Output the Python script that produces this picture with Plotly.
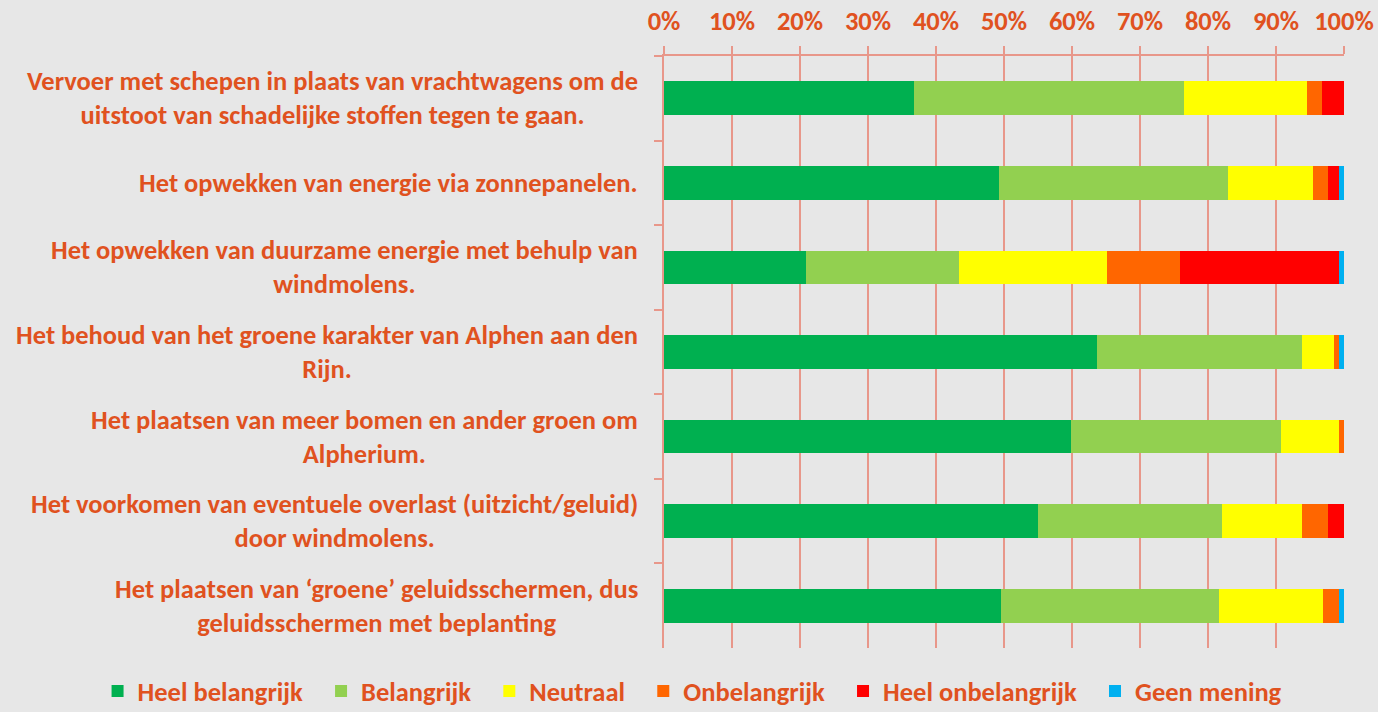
import plotly.graph_objects as go

categories = [
    "Vervoer met schepen in plaats van vrachtwagens om de<br>uitstoot van schadelijke stoffen tegen te gaan.",
    "Het opwekken van energie via zonnepanelen.",
    "Het opwekken van duurzame energie met behulp van<br>windmolens.",
    "Het behoud van het groene karakter van Alphen aan den<br>Rijn.",
    "Het plaatsen van meer bomen en ander groen om<br>Alpherium.",
    "Het voorkomen van eventuele overlast (uitzicht/geluid)<br>door windmolens.",
    "Het plaatsen van \u2018groene\u2019 geluidsschermen, dus<br>geluidsschermen met beplanting",
]

series_names = ["Heel belangrijk", "Belangrijk", "Neutraal", "Onbelangrijk", "Heel onbelangrijk", "Geen mening"]
heel_belangrijk = [36.7, 49.2, 20.9, 63.7, 59.9, 55.0, 49.5]
belangrijk = [39.8, 33.8, 22.5, 30.1, 30.8, 27.1, 32.1]
neutraal = [18.0, 12.4, 21.7, 4.7, 8.5, 11.7, 15.3]
onbelangrijk = [2.3, 2.3, 10.8, 0.7, 0.8, 3.8, 2.3]
heel_onbelangrijk = [3.2, 1.5, 23.3, 0.0, 0.0, 2.4, 0.0]
geen_mening = [0.0, 0.8, 0.8, 0.8, 0.0, 0.0, 0.8]
colors = ["#00B050", "#92D050", "#FFFF00", "#FF6600", "#FF0000", "#00B0F0"]

x_ticks = [i / 10 for i in range(11)]

TXT = "#E0521F"
GRID = "#E8978A"
FONT = "Carlito, Lato, sans-serif"
FS = 26.5

all_series = [heel_belangrijk, belangrijk, neutraal, onbelangrijk, heel_onbelangrijk, geen_mening]

fig = go.Figure()
for name, vals, col in zip(series_names, all_series, colors):
    fig.add_trace(go.Bar(
        y=categories, x=[v / 100 for v in vals], name=name + "\u2002", orientation="h",
        marker=dict(color=col, line=dict(width=0)),
    ))

for c in categories:
    fig.add_annotation(
        x=0, xref="paper", y=c, yref="y", text=c, showarrow=False,
        xanchor="right", yanchor="middle", align="center", xshift=-24,
        font=dict(family=FONT, size=FS, color=TXT, weight="bold"),
    )

fig.update_layout(
    barmode="stack", bargap=0.6,
    width=1378, height=712,
    margin=dict(l=664, r=34, t=56, b=64, autoexpand=False),
    paper_bgcolor="#E7E7E7", plot_bgcolor="#E7E7E7",
    font=dict(family=FONT, color=TXT, size=FS),
    legend=dict(
        orientation="h", x=-0.833, xref="paper", xanchor="left",
        y=-0.073, yref="paper", yanchor="middle",
        font=dict(family=FONT, size=FS, color=TXT, weight="bold"),
        traceorder="normal",
    ),
    xaxis=dict(
        side="top", range=[0, 1], tickvals=x_ticks, tickformat=".0%",
        showgrid=True, gridcolor=GRID, gridwidth=2,
        showline=True, linecolor=GRID, linewidth=2,
        ticks="outside", ticklen=8, tickcolor=GRID, tickwidth=2,
        tickfont=dict(family=FONT, size=FS, color=TXT, weight="bold"),
        ticklabelstandoff=5, zeroline=False, automargin=False,
    ),
    yaxis=dict(
        autorange="reversed", showticklabels=False,
        showline=True, linecolor=GRID, linewidth=2,
        ticks="outside", tickson="boundaries", ticklen=8, tickcolor=GRID, tickwidth=2,
        showgrid=False, automargin=False,
    ),
)

fig.write_html(
    "out.html",
    config={"displayModeBar": False},
    post_script="document.body.style.margin='0';document.body.style.background='#E7E7E7';",
)
